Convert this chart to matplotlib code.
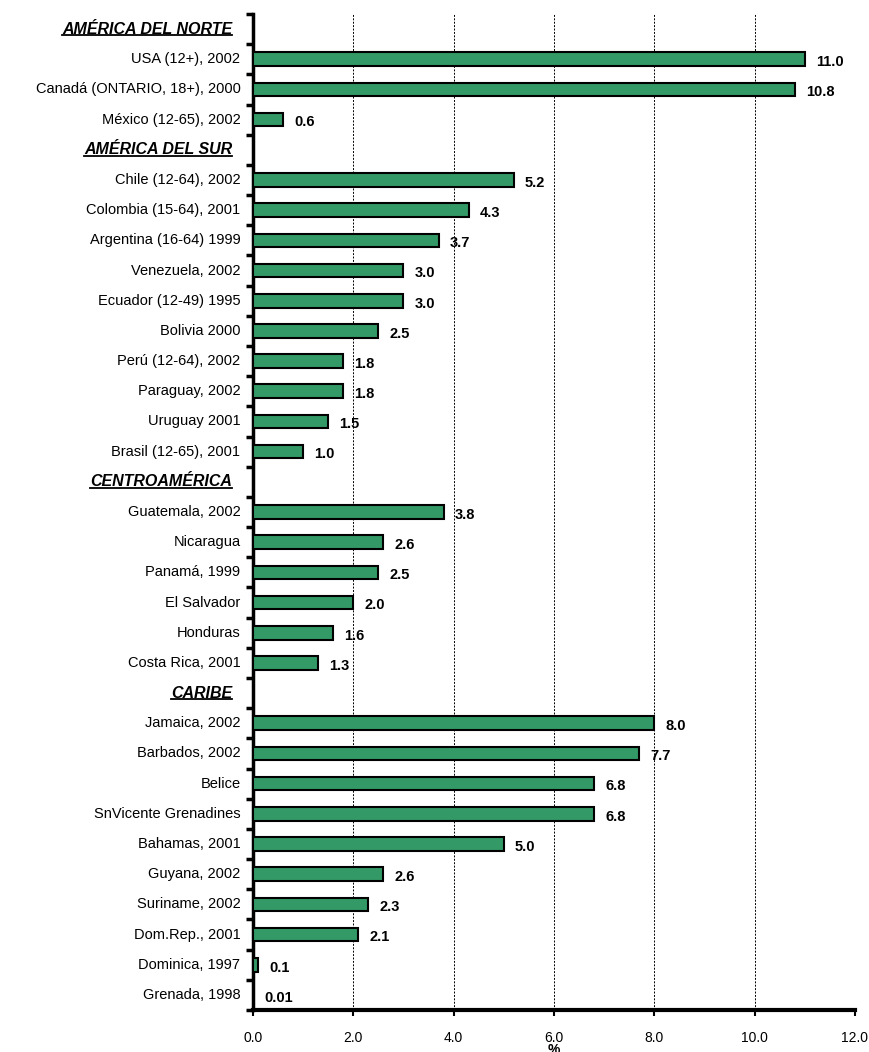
import matplotlib.pyplot as plt
from matplotlib.lines import Line2D

# rows from top to bottom; None marks a region header
labels = [
    "AMÉRICA DEL NORTE",
    "USA (12+), 2002", "Canadá (ONTARIO, 18+), 2000", "México (12-65), 2002",
    "AMÉRICA DEL SUR",
    "Chile (12-64), 2002", "Colombia (15-64), 2001", "Argentina (16-64) 1999",
    "Venezuela, 2002", "Ecuador (12-49) 1995", "Bolivia 2000", "Perú (12-64), 2002",
    "Paraguay, 2002", "Uruguay 2001", "Brasil (12-65), 2001",
    "CENTROAMÉRICA",
    "Guatemala, 2002", "Nicaragua", "Panamá, 1999", "El Salvador", "Honduras",
    "Costa Rica, 2001",
    "CARIBE",
    "Jamaica, 2002", "Barbados, 2002", "Belice", "SnVicente Grenadines",
    "Bahamas, 2001", "Guyana, 2002", "Suriname, 2002", "Dom.Rep., 2001",
    "Dominica, 1997", "Grenada, 1998",
]
values = [
    None, 11.0, 10.8, 0.6,
    None, 5.2, 4.3, 3.7, 3.0, 3.0, 2.5, 1.8, 1.8, 1.5, 1.0,
    None, 3.8, 2.6, 2.5, 2.0, 1.6, 1.3,
    None, 8.0, 7.7, 6.8, 6.8, 5.0, 2.6, 2.3, 2.1, 0.1, 0.01,
]
value_text = [
    None, "11.0", "10.8", "0.6",
    None, "5.2", "4.3", "3.7", "3.0", "3.0", "2.5", "1.8", "1.8", "1.5", "1.0",
    None, "3.8", "2.6", "2.5", "2.0", "1.6", "1.3",
    None, "8.0", "7.7", "6.8", "6.8", "5.0", "2.6", "2.3", "2.1", "0.1", "0.01",
]
xticks = [0, 2, 4, 6, 8, 10, 12]

plt.rcParams['font.family'] = ['Liberation Sans', 'DejaVu Sans']

fig = plt.figure(figsize=(8.69, 10.52), dpi=100)
ax = fig.add_axes([0.2911, 0.0399, 0.6927, 0.9468])

rows = list(range(len(labels)))
bar_rows = [r for r in rows if values[r] is not None]
bar_vals = [values[r] for r in bar_rows]

ax.barh(bar_rows, bar_vals, height=0.45, color="#339966",
        edgecolor="black", linewidth=1.5, zorder=3)

for r in bar_rows:
    ax.annotate(value_text[r], xy=(values[r], r), xytext=(8, -2),
                textcoords="offset points", ha="left", va="center",
                fontsize=10.5, fontweight="bold", zorder=4)

ax.set_xlim(0, 12)
ax.set_ylim(len(labels) - 0.5, -0.5)

# vertical dashed grid
for gx in xticks[1:-1]:
    ax.axvline(gx, color="black", linestyle=(0, (2, 1.5)), linewidth=0.7, zorder=1)

ax.set_xticks(xticks)
ax.set_xticklabels([f"{t:.1f}" for t in xticks], fontsize=10)
ax.set_xlabel("%", fontsize=10, fontweight="bold", labelpad=-1)

# y ticks at row boundaries, labels drawn as text
ax.set_yticks([r - 0.5 for r in range(len(labels) + 1)])
ax.set_yticklabels([])
ax.tick_params(axis="y", length=5, width=2.5, direction="out")
ax.tick_params(axis="x", length=4, width=1.5, direction="out", pad=11)

for s in ["top", "right"]:
    ax.spines[s].set_visible(False)
ax.spines["left"].set_linewidth(2.5)
ax.spines["bottom"].set_linewidth(3)

headers = []
for r in rows:
    if values[r] is None:
        t = ax.annotate(labels[r], xy=(0, r), xycoords=("axes fraction", "data"),
                        xytext=(-15, 0), textcoords="offset points",
                        ha="right", va="center", fontsize=11.5,
                        fontweight="bold", fontstyle="italic")
        headers.append(t)
    else:
        ax.annotate(labels[r], xy=(0, r), xycoords=("axes fraction", "data"),
                    xytext=(-9, 0), textcoords="offset points",
                    ha="right", va="center", fontsize=10.5)

# underline the region headers
fig.canvas.draw()
renderer = fig.canvas.get_renderer()
for t in headers:
    bb = t.get_window_extent(renderer)
    fig.add_artist(Line2D([bb.x0, bb.x1], [bb.y0 + 1.5, bb.y0 + 1.5],
                          transform=None, color="black", linewidth=1.3))

fig.savefig("out.png", dpi=100)
